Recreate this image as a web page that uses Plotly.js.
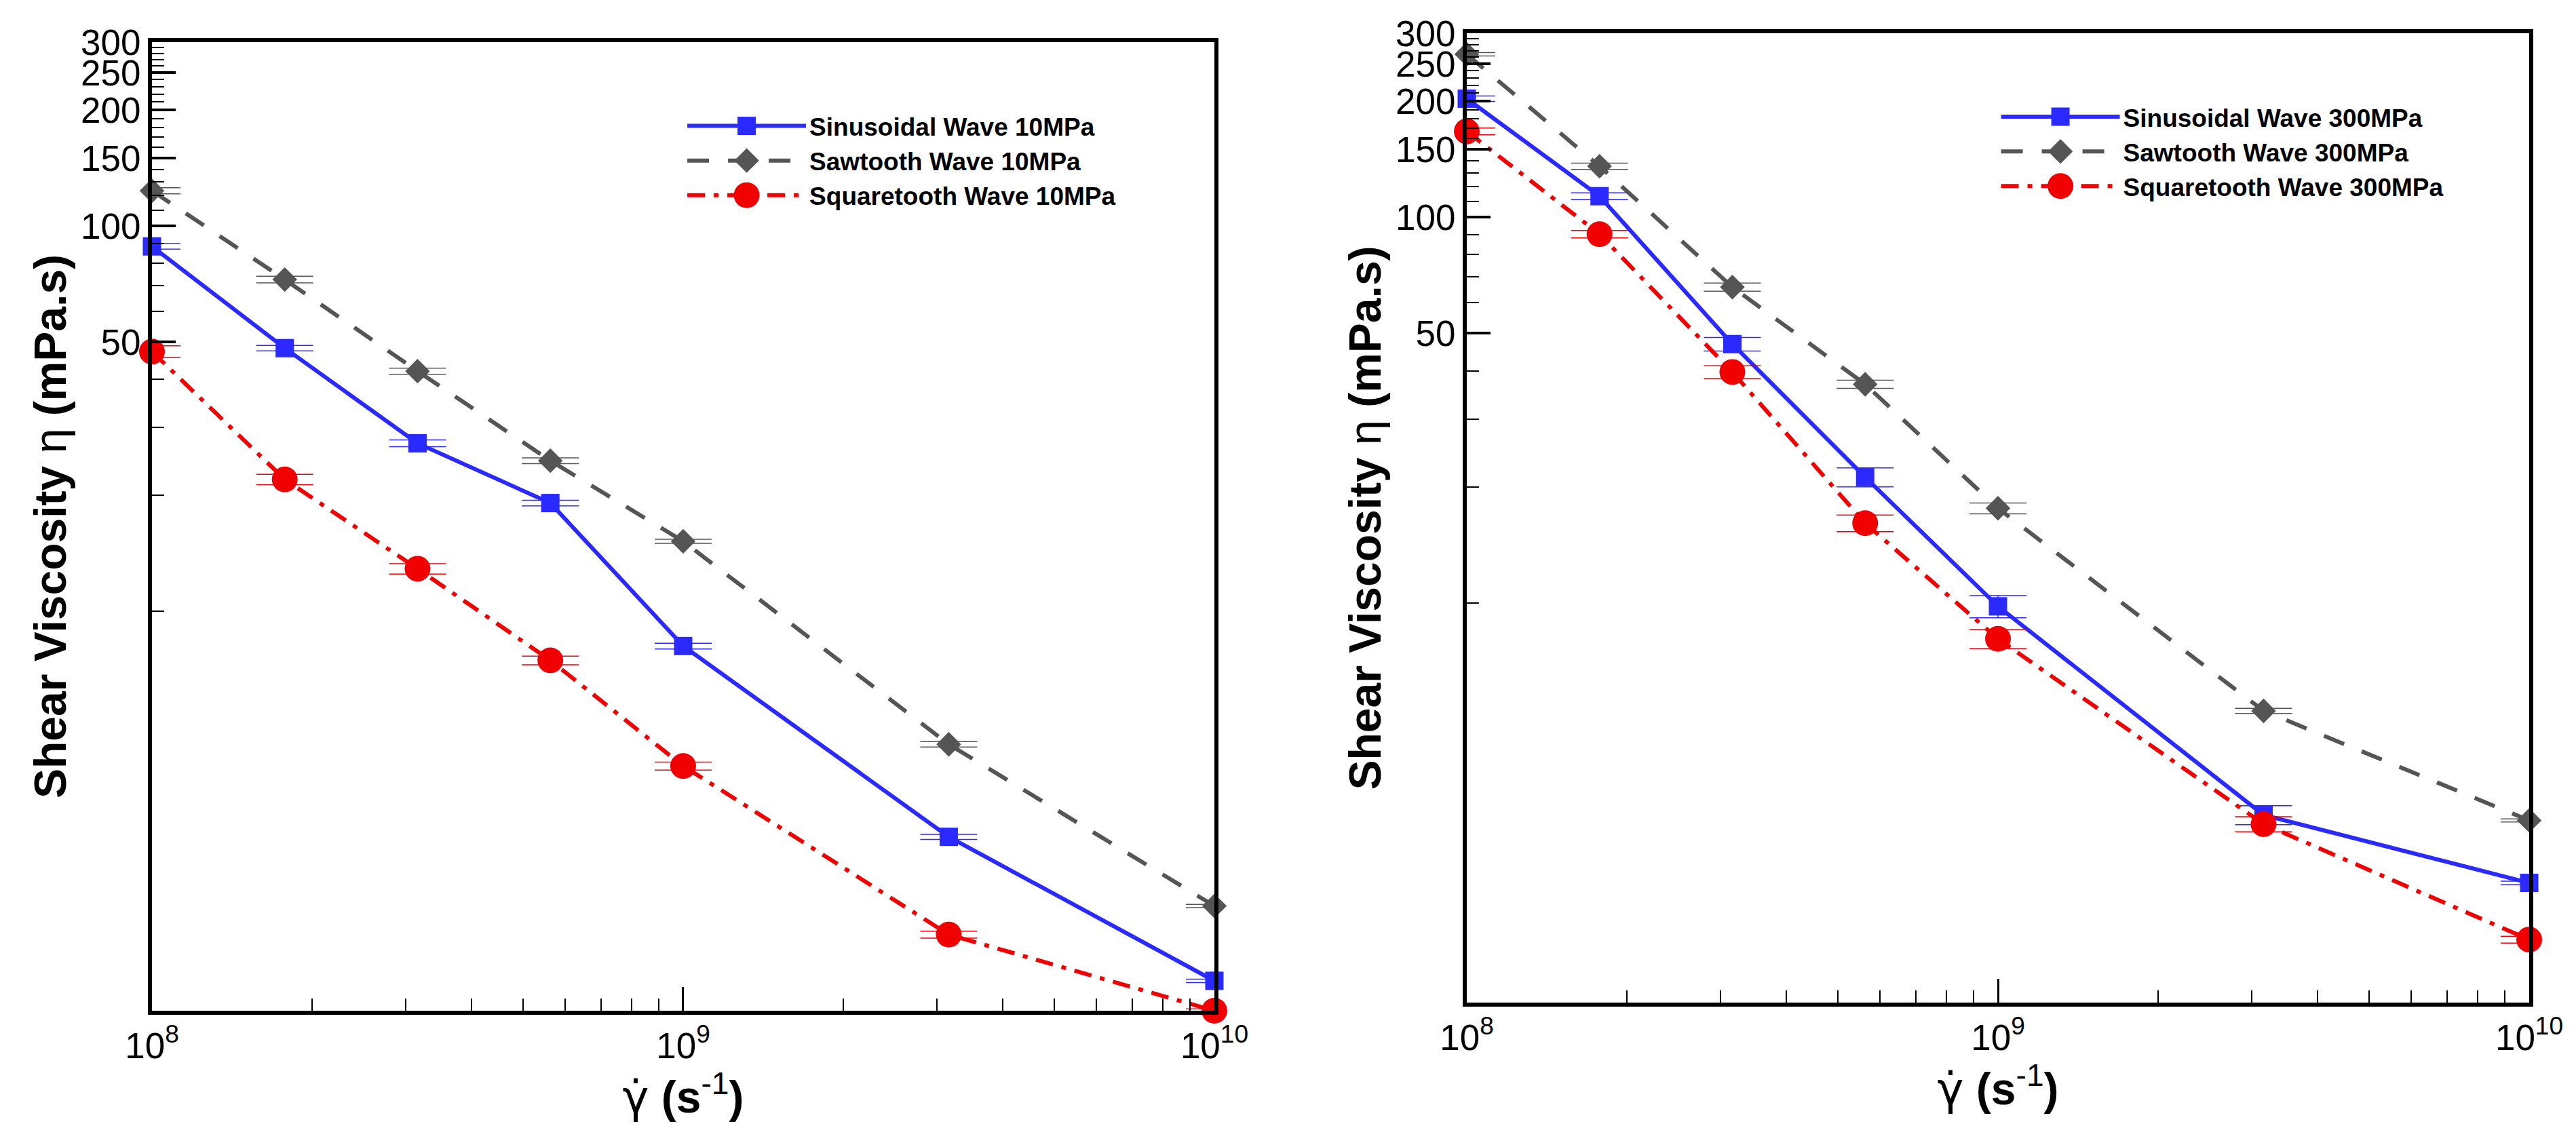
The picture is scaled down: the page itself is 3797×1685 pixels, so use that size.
<!DOCTYPE html>
<html>
<head>
<meta charset="utf-8">
<script src="https://cdn.plot.ly/plotly-3.0.1.min.js"></script>
<style>
html,body{margin:0;padding:0;background:#ffffff;}
#chart{width:3797px;height:1685px;}
</style>
</head>
<body>
<div id="chart"></div>
<script>
// ---- data ----
const shearRate = [1e8, 1.778e8, 3.162e8, 5.623e8, 1e9, 3.162e9, 1e10];

// 10 MPa (left panel)
const sinusoidal10 = [88.5, 48.2, 27.3, 19.1, 8.13, 2.60, 1.10];
const sawtooth10   = [123.4, 72.6, 42.0, 24.6, 15.2, 4.52, 1.72];
const squaretooth10 = [47.2, 22.0, 12.9, 7.46, 3.97, 1.45, 0.92];
const sinusoidal10Err = [1.4, 0.78, 0.55, 0.32, 0.14, 0.04, 0.011];
const sawtooth10Err   = [2.3, 1.45, 0.77, 0.42, 0.18, 0.073, 0.017];
const squaretooth10Err = [1.65, 0.68, 0.40, 0.19, 0.095, 0.03, 0.01];

// 300 MPa (right panel)
const sinusoidal300 = [203, 113.4, 46.9, 21.2, 9.8, 2.82, 1.88];
const sawtooth300   = [264.6, 135.6, 65.9, 36.9, 17.6, 5.25, 2.73];
const squaretooth300 = [167, 90.4, 39.7, 16.1, 8.07, 2.67, 1.34];
const sinusoidal300Err = [3.3, 2.3, 1.9, 1.2, 0.65, 0.16, 0.02];
const sawtooth300Err   = [2.6, 2.6, 1.6, 0.9, 0.57, 0.08, 0.025];
const squaretooth300Err = [3.4, 2.0, 1.5, 0.8, 0.46, 0.12, 0.027];

// tick labels / positions
const yMajorTicks = [50, 100, 150, 200, 250, 300];
const yMinorTicks = [10, 20, 30, 40, 60, 70, 80, 90, 110, 120, 130, 140, 160, 170, 180, 190,
                     210, 220, 230, 240, 260, 270, 280, 290];
const xMajorTicks = [1e8, 1e9, 1e10];
const xTickLabels = ['10<sup>8</sup>', '10<sup>9</sup>', '10<sup>10</sup>'];
const xMinorTicks = [2e8, 3e8, 4e8, 5e8, 6e8, 7e8, 8e8, 9e8, 2e9, 3e9, 4e9, 5e9, 6e9, 7e9, 8e9, 9e9];

const seriesNames10 = ['Sinusoidal Wave 10MPa', 'Sawtooth Wave 10MPa', 'Squaretooth Wave 10MPa'];
const seriesNames300 = ['Sinusoidal Wave 300MPa', 'Sawtooth Wave 300MPa', 'Squaretooth Wave 300MPa'];

// ---- styles ----
const FONT = 'Liberation Sans, Arial, Helvetica, sans-serif';
const styles = [
  {color: '#2a2aff', symbol: 'square', size: 27, dash: 'solid'},
  {color: '#555555', symbol: 'diamond', size: 28, dash: '32px,28px'},
  {color: '#f00000', symbol: 'circle', size: 38, dash: '26px,13px,7px,13px'}
];

function makeTrace(name, y, err, st, xa, ya, legendId) {
  return {
    type: 'scatter', mode: 'lines+markers', name: name,
    x: shearRate, y: y, xaxis: xa, yaxis: ya, legend: legendId,
    cliponaxis: false,
    line: {color: st.color, width: 6, dash: st.dash},
    marker: {color: st.color, symbol: st.symbol, size: st.size, line: {width: 0}},
    error_y: {type: 'data', array: err, visible: true, color: st.color, thickness: 1.5, width: 42}
  };
}

const data = [
  makeTrace(seriesNames10[0], sinusoidal10, sinusoidal10Err, styles[0], 'x', 'y', 'legend'),
  makeTrace(seriesNames10[1], sawtooth10, sawtooth10Err, styles[1], 'x', 'y', 'legend'),
  makeTrace(seriesNames10[2], squaretooth10, squaretooth10Err, styles[2], 'x', 'y', 'legend'),
  makeTrace(seriesNames300[0], sinusoidal300, sinusoidal300Err, styles[0], 'x2', 'y2', 'legend2'),
  makeTrace(seriesNames300[1], sawtooth300, sawtooth300Err, styles[1], 'x2', 'y2', 'legend2'),
  makeTrace(seriesNames300[2], squaretooth300, squaretooth300Err, styles[2], 'x2', 'y2', 'legend2')
];

function xAxis(domain, anchor) {
  return {
    type: 'log', range: [8, 10], domain: domain, anchor: anchor,
    tickmode: 'array', tickvals: xMajorTicks, ticktext: xTickLabels,
    ticks: 'inside', ticklen: 35, tickwidth: 3, tickcolor: '#000',
    showline: true, linewidth: 6, linecolor: '#000', mirror: true,
    showgrid: false, zeroline: false,
    minor: {tickmode: 'array', tickvals: xMinorTicks, ticks: 'inside', ticklen: 18, tickwidth: 2, tickcolor: '#000', showgrid: false},
    tickfont: {family: FONT, size: 53, color: '#000'},
    title: {text: '<span style="font-family:DejaVu Sans">γ̇</span> <b>(s</b><sup>-1</sup><b>)</b>',
            font: {family: FONT, size: 66, color: '#000'}, standoff: 6}
  };
}
function yAxis(domain, anchor) {
  return {
    type: 'log', range: [Math.log10(0.92), Math.log10(300)], domain: domain, anchor: anchor,
    tickmode: 'array', tickvals: yMajorTicks, ticktext: yMajorTicks.map(String),
    ticks: 'inside', ticklen: 35, tickwidth: 4, tickcolor: '#000',
    showline: true, linewidth: 6, linecolor: '#000', mirror: true,
    showgrid: false, zeroline: false,
    minor: {tickmode: 'array', tickvals: yMinorTicks, ticks: 'inside', ticklen: 18, tickwidth: 2, tickcolor: '#000', showgrid: false},
    tickfont: {family: FONT, size: 53, color: '#000'},
    title: {text: '<b>Shear Viscosity</b> η <b>(mPa.s)</b>', font: {family: FONT, size: 66, color: '#000'}, standoff: 2}
  };
}
function legendCfg(x, y) {
  return {
    x: x, y: y, xanchor: 'left', yanchor: 'top',
    font: {family: 'Liberation Sans, Arial, sans-serif', size: 37, color: '#000', weight: 'bold'},
    bgcolor: 'rgba(0,0,0,0)', borderwidth: 0, itemwidth: 175, tracegroupgap: 0
  };
}

const layout = {
  width: 3797, height: 1685,
  margin: {l: 0, r: 0, t: 0, b: 0, pad: 0},
  paper_bgcolor: '#ffffff', plot_bgcolor: '#ffffff',
  showlegend: true,
  xaxis: xAxis([0.05899, 0.47142], 'y'),
  yaxis: yAxis([0.11573, 0.96320], 'x'),
  xaxis2: xAxis([0.56940, 0.98183], 'y2'),
  yaxis2: yAxis([0.12285, 0.97092], 'x2'),
  legend: legendCfg(0.2655, 0.908),
  legend2: legendCfg(0.7755, 0.916),
  font: {family: FONT, color: '#000'}
};

Plotly.newPlot('chart', data, layout, {displayModeBar: false, staticPlot: true}).then(function (gd) {
  // legend symbols are capped at 16px by the library; scale them up to the trace marker size
  gd.querySelectorAll('.infolayer g.traces').forEach(function (g) {
    var d = g.__data__;
    if (!d || !d[0] || !d[0].trace) return;
    var k = d[0].trace.marker.size / 16;
    g.querySelectorAll('.legendpoints path.scatterpts').forEach(function (p) {
      var t = p.getAttribute('transform') || '';
      p.setAttribute('transform', t + ' scale(' + k + ')');
    });
  });
});
</script>
</body>
</html>
